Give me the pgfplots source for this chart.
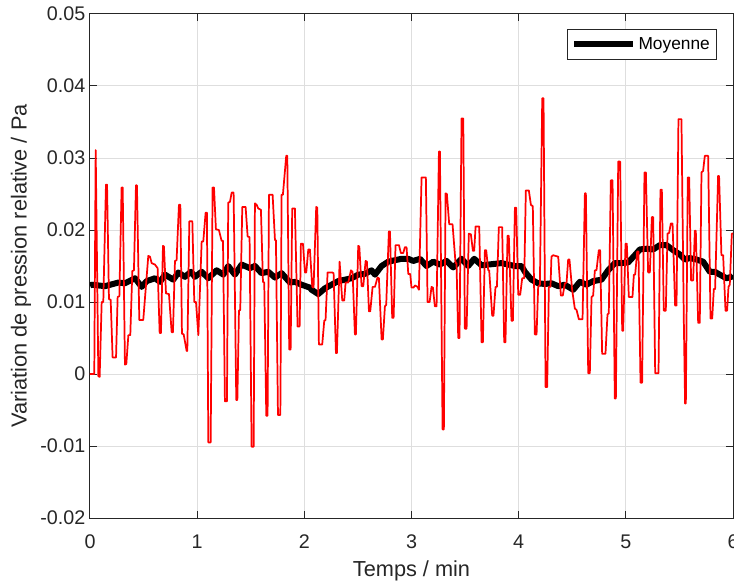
\documentclass[border=0pt]{standalone}
\usepackage{pgfplots}
\pgfplotsset{compat=1.18}
\usepackage{fontspec}
\setmainfont{Liberation Sans}
\definecolor{axgray}{gray}{0.15}
\definecolor{gridgray}{gray}{0.87}
\begin{document}
\begin{tikzpicture}
\begin{axis}[
  name=ax,
  scale only axis,
  width=482.25pt, height=378pt,
  xmin=0, xmax=6, ymin=-0.02, ymax=0.05,
  xtick={0,1,2,3,4,5,6},
  xticklabels={0,1,2,3,4,5,6},
  ytick={-0.02,-0.01,0,0.01,0.02,0.03,0.04,0.05},
  yticklabels={-0.02,-0.01,0,0.01,0.02,0.03,0.04,0.05},
  scaled y ticks=false,
  tick align=inside,
  xtick pos=both, ytick pos=both,
  major tick length=5pt,
  axis line style={axgray, line width=0.75pt},
  every tick/.style={axgray, line width=0.75pt},
  grid=major,
  major grid style={gridgray, line width=0.75pt},
  tick label style={font=\fontsize{14.8}{17}\selectfont, text=axgray},
  xticklabel style={anchor=base, yshift=-22.5pt},
  label style={font=\fontsize{16.3}{19}\selectfont, text=axgray},
  xlabel style={at={(axis description cs:0.5,0)}, anchor=base, yshift=-44pt, font=\fontsize{16.3}{19}\selectfont, text=axgray},
  xlabel={Temps / min},
  ylabel={Variation de pression relative / Pa},
  legend style={at={(1,1)}, anchor=north east, xshift=-12pt, yshift=-11.25pt,
    draw=axgray, line width=0.75pt, font=\fontsize{13}{15}\selectfont, text=black,
    inner xsep=3pt, inner ysep=4pt},
  legend image code/.code={\draw[#1, line width=4.5pt] (0pt,0pt) -- (44pt,0pt);},
  clip=true,
]
\addplot[black, line width=4.5pt, line join=round] coordinates {
(0,0.0123)(0.016,0.0124)(0.140,0.0122)(0.264,0.0127)(0.326,0.0126)(0.420,0.0133)
(0.482,0.0121)(0.529,0.0129)(0.606,0.0133)(0.653,0.0128)(0.700,0.0138)(0.777,0.0131)
(0.824,0.0141)(0.886,0.0135)(0.942,0.0142)(0.979,0.0135)(1.042,0.0142)(1.104,0.0133)
(1.182,0.0144)(1.244,0.0138)(1.290,0.0150)(1.352,0.0138)(1.415,0.0152)(1.492,0.0147)
(1.539,0.0150)(1.601,0.0140)(1.663,0.0142)(1.726,0.0134)(1.788,0.0140)(1.866,0.0127)
(1.912,0.0128)(1.974,0.0124)(2.052,0.0120)(2.068,0.0117)(2.130,0.0111)(2.192,0.0119)
(2.254,0.0124)(2.316,0.0129)(2.379,0.0131)(2.441,0.0133)(2.503,0.0138)(2.565,0.0139)
(2.627,0.0144)(2.659,0.0138)(2.721,0.0150)(2.783,0.0156)(2.845,0.0158)(2.907,0.0160)
(2.970,0.0160)(3.016,0.0157)(3.079,0.0160)(3.140,0.0150)(3.203,0.0156)(3.265,0.0152)
(3.327,0.0157)(3.389,0.0148)(3.467,0.0160)(3.529,0.0150)(3.585,0.0160)(3.654,0.0151)
(3.716,0.0152)(3.778,0.0153)(3.840,0.0154)(3.902,0.0152)(3.965,0.0150)(4.027,0.0150)
(4.058,0.0142)(4.120,0.0131)(4.182,0.0126)(4.244,0.0125)(4.306,0.0126)(4.369,0.0122)
(4.431,0.0124)(4.509,0.0117)(4.571,0.0128)(4.633,0.0124)(4.695,0.0129)(4.773,0.0131)
(4.835,0.0144)(4.897,0.0154)(4.960,0.0154)(5.022,0.0155)(5.084,0.0165)(5.131,0.0173)
(5.193,0.0174)(5.255,0.0173)(5.317,0.0179)(5.379,0.0179)(5.442,0.0172)(5.504,0.0166)
(5.550,0.0159)(5.597,0.0161)(5.659,0.0159)(5.721,0.0156)(5.784,0.0142)(5.830,0.0142)
(5.877,0.0138)(5.939,0.0133)(5.986,0.0135)(6.000,0.0137)
};
\addlegendentry{Moyenne}
\addplot[red, line width=1.3pt, line join=round, forget plot] coordinates {
(0,0)(0.040,0)(0.053,0.0311)(0.078,-0.0003)(0.090,-0.0004)(0.109,0.0100)(0.124,0.0100)
(0.149,0.0263)(0.159,0.0263)(0.177,0.0104)(0.193,0.0103)(0.211,0.0023)(0.243,0.0023)
(0.258,0.0107)(0.274,0.0108)(0.295,0.0259)(0.305,0.0259)(0.326,0.0013)(0.339,0.0014)
(0.358,0.0054)(0.376,0.0054)(0.395,0.0143)(0.410,0.0144)(0.429,0.0262)(0.438,0.0262)
(0.460,0.0075)(0.497,0.0075)(0.544,0.0164)(0.560,0.0163)(0.575,0.0154)(0.606,0.0152)
(0.631,0.0147)(0.650,0.0057)(0.662,0.0057)(0.681,0.0178)(0.690,0.0177)(0.709,0.0112)
(0.737,0.0111)(0.762,0.0058)(0.774,0.0058)(0.793,0.0157)(0.808,0.0158)(0.830,0.0235)
(0.843,0.0235)(0.858,0.0056)(0.874,0.0055)(0.902,0.0032)(0.908,0.0032)(0.927,0.0212)
(0.955,0.0212)(0.973,0.0100)(0.989,0.0100)(1.011,0.0054)(1.042,0.0184)(1.057,0.0184)
(1.079,0.0224)(1.091,0.0224)(1.104,-0.0095)(1.126,-0.0095)(1.144,0.0259)(1.157,0.0259)
(1.175,0.0201)(1.203,0.0200)(1.228,0.0185)(1.241,0.0185)(1.259,-0.0038)(1.278,-0.0038)
(1.290,0.0238)(1.306,0.0239)(1.322,0.0252)(1.340,0.0252)(1.365,-0.0036)(1.375,-0.0036)
(1.390,0.0088)(1.402,0.0089)(1.421,0.0232)(1.452,0.0232)(1.471,0.0191)(1.489,0.0190)
(1.508,-0.0101)(1.527,-0.0101)(1.539,0.0237)(1.555,0.0235)(1.570,0.0230)(1.595,0.0228)
(1.614,0.0128)(1.626,0.0127)(1.645,-0.0058)(1.657,-0.0058)(1.670,0.0249)(1.704,0.0249)
(1.726,0.0186)(1.735,0.0186)(1.754,-0.0057)(1.776,-0.0057)(1.788,0.0249)(1.800,0.0249)
(1.831,0.0303)(1.841,0.0303)(1.859,0.0034)(1.872,0.0034)(1.887,0.0230)(1.912,0.0230)
(1.937,0.0066)(1.956,0.0066)(1.968,0.0181)(1.987,0.0181)(2.006,0.0141)(2.018,0.0141)
(2.037,0.0173)(2.052,0.0173)(2.074,0.0121)(2.086,0.0120)(2.111,0.0232)(2.121,0.0231)
(2.136,0.0041)(2.167,0.0041)(2.186,0.0074)(2.198,0.0075)(2.217,0.0141)(2.261,0.0141)
(2.273,0.0140)(2.295,0.0029)(2.304,0.0029)(2.329,0.0156)(2.354,0.0102)(2.372,0.0102)
(2.385,0.0127)(2.410,0.0127)(2.435,0.0144)(2.450,0.0142)(2.472,0.0055)(2.481,0.0055)
(2.503,0.0178)(2.513,0.0177)(2.534,0.0122)(2.550,0.0122)(2.572,0.0157)(2.584,0.0156)
(2.603,0.0087)(2.615,0.0087)(2.637,0.0121)(2.659,0.0121)(2.683,0.0134)(2.696,0.0133)
(2.721,0.0048)(2.733,0.0048)(2.752,0.0094)(2.764,0.0096)(2.789,0.0198)(2.799,0.0198)
(2.820,0.0078)(2.833,0.0078)(2.851,0.0179)(2.883,0.0179)(2.901,0.0168)(2.923,0.0168)
(2.938,0.0176)(2.954,0.0176)(2.970,0.0139)(2.988,0.0139)(3.000,0.0120)(3.019,0.0120)
(3.032,0.0123)(3.057,0.0121)(3.069,0.0117)(3.094,0.0273)(3.134,0.0273)(3.150,0.0100)
(3.169,0.0100)(3.187,0.0121)(3.200,0.0120)(3.218,0.0094)(3.234,0.0094)(3.256,0.0309)
(3.265,0.0309)(3.290,-0.0077)(3.302,-0.0077)(3.318,0.0251)(3.330,0.0250)(3.352,0.0208)
(3.383,0.0208)(3.411,0.0154)(3.420,0.0154)(3.436,0.0050)(3.448,0.0050)(3.467,0.0355)
(3.483,0.0355)(3.498,0.0063)(3.514,0.0063)(3.535,0.0195)(3.554,0.0194)(3.573,0.0171)
(3.585,0.0171)(3.598,0.0205)(3.632,0.0205)(3.654,0.0044)(3.666,0.0044)(3.685,0.0172)
(3.697,0.0172)(3.716,0.0144)(3.725,0.0144)(3.753,0.0081)(3.765,0.0081)(3.784,0.0121)
(3.797,0.0121)(3.815,0.0204)(3.846,0.0204)(3.865,0.0044)(3.877,0.0044)(3.896,0.0192)
(3.908,0.0192)(3.933,0.0074)(3.946,0.0074)(3.965,0.0231)(3.977,0.0231)(3.996,0.0110)
(4.014,0.0110)(4.033,0.0133)(4.052,0.0133)(4.067,0.0255)(4.095,0.0255)(4.114,0.0235)
(4.132,0.0233)(4.151,0.0055)(4.167,0.0055)(4.182,0.0121)(4.198,0.0124)(4.220,0.0383)
(4.232,0.0383)(4.251,-0.0018)(4.266,-0.0018)(4.282,0.0121)(4.297,0.0121)(4.306,0.0163)
(4.322,0.0165)(4.344,0.0164)(4.369,0.0163)(4.394,0.0109)(4.412,0.0109)(4.431,0.0126)
(4.447,0.0127)(4.462,0.0159)(4.474,0.0159)(4.499,0.0117)(4.524,0.0091)(4.540,0.0089)
(4.562,0.0076)(4.596,0.0076)(4.618,0.0251)(4.627,0.0251)(4.649,0.0001)(4.664,0.0001)
(4.680,0.0107)(4.695,0.0109)(4.711,0.0144)(4.726,0.0144)(4.748,0.0172)(4.760,0.0172)
(4.779,0.0028)(4.810,0.0028)(4.829,0.0083)(4.841,0.0084)(4.860,0.0269)(4.876,0.0269)
(4.897,-0.0034)(4.907,-0.0034)(4.929,0.0295)(4.947,0.0295)(4.966,0.0060)(4.975,0.0060)
(4.997,0.0181)(5.009,0.0181)(5.028,0.0107)(5.062,0.0107)(5.075,0.0138)(5.087,0.0138)
(5.106,0.0170)(5.118,0.0170)(5.137,-0.0012)(5.152,-0.0012)(5.174,0.0280)(5.187,0.0280)
(5.208,0.0141)(5.224,0.0141)(5.243,0.0218)(5.255,0.0218)(5.274,0.0001)(5.305,0.0001)
(5.323,0.0256)(5.336,0.0256)(5.354,0.0088)(5.373,0.0088)(5.389,0.0195)(5.404,0.0196)
(5.420,0.0209)(5.436,0.0209)(5.460,0.0095)(5.473,0.0095)(5.491,0.0354)(5.519,0.0354)
(5.541,0.0075)(5.553,-0.0041)(5.560,-0.0041)(5.578,0.0273)(5.591,0.0273)(5.609,0.0130)
(5.628,0.0130)(5.644,0.0199)(5.653,0.0199)(5.675,0.0071)(5.690,0.0071)(5.706,0.0280)
(5.721,0.0282)(5.737,0.0303)(5.768,0.0303)(5.790,0.0077)(5.806,0.0077)(5.821,0.0118)
(5.833,0.0118)(5.861,0.0275)(5.870,0.0275)(5.892,0.0165)(5.908,0.0165)(5.930,0.0088)
(5.945,0.0088)(5.958,0.0121)(5.970,0.0124)(5.989,0.0195)(6.000,0.0195)
};
\end{axis}
\pgfresetboundingbox
\path[use as bounding box] ([xshift=-67.5pt,yshift=-47.25pt]ax.south west) rectangle ([xshift=0.75pt,yshift=10.5pt]ax.north east);
\end{tikzpicture}
\end{document}
